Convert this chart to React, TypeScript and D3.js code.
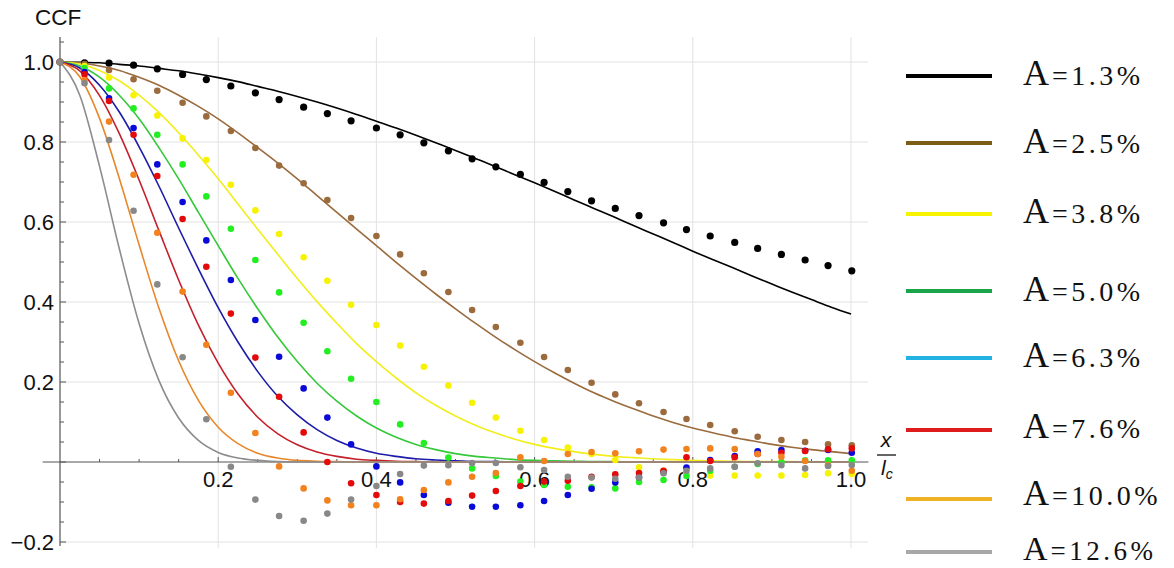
import React from 'react';
import * as d3 from 'd3';

// ---------- data ----------
const seriesNames = ["1.3", "2.5", "3.8", "5.0", "6.3", "7.6", "10.0", "12.6"];

// lag positions of the measured points (x / l_c)
const lags = [0, 0.031, 0.062, 0.093, 0.123, 0.155, 0.185, 0.216, 0.247, 0.277, 0.308, 0.338, 0.368, 0.4, 0.43, 0.46, 0.491, 0.521, 0.551, 0.582, 0.612, 0.642, 0.672, 0.702, 0.732, 0.763, 0.792, 0.822, 0.853, 0.882, 0.912, 0.942, 0.971, 1.001];

const ptsA13 = [1, 0.998, 0.997, 0.992, 0.983, 0.969, 0.956, 0.94, 0.923, 0.906, 0.887, 0.871, 0.853, 0.835, 0.818, 0.798, 0.778, 0.758, 0.738, 0.719, 0.699, 0.676, 0.653, 0.634, 0.616, 0.598, 0.581, 0.565, 0.549, 0.534, 0.519, 0.505, 0.491, 0.478];
const ptsA25 = [1, 0.995, 0.98, 0.957, 0.928, 0.898, 0.864, 0.8275, 0.785, 0.741, 0.697, 0.655, 0.61, 0.565, 0.519, 0.472, 0.425, 0.38, 0.3375, 0.298, 0.2625, 0.23, 0.198, 0.169, 0.147, 0.125, 0.1075, 0.0925, 0.077, 0.063, 0.055, 0.05, 0.044, 0.042];
const ptsA38 = [1, 0.99, 0.961, 0.917, 0.866, 0.809, 0.755, 0.693, 0.629, 0.57, 0.512, 0.453, 0.393, 0.3425, 0.291, 0.238, 0.191, 0.148, 0.111, 0.078, 0.055, 0.036, 0.02, 0.005, -0.013, -0.022, -0.028, -0.034, -0.034, -0.034, -0.034, -0.0325, -0.028, -0.03];
const ptsA50 = [1, 0.985, 0.934, 0.884, 0.818, 0.744, 0.664, 0.583, 0.505, 0.424, 0.348, 0.277, 0.208, 0.15, 0.094, 0.0475, 0.011, -0.016, -0.035, -0.049, -0.0575, -0.062, -0.063, -0.066, -0.05, -0.045, -0.035, -0.022, -0.012, -0.005, 0, 0.004, 0.004, 0.004];
const ptsA63 = [1, 0.975, 0.909, 0.835, 0.744, 0.65, 0.554, 0.455, 0.355, 0.263, 0.184, 0.111, 0.044, -0.011, -0.051, -0.0825, -0.102, -0.112, -0.112, -0.108, -0.0975, -0.0825, -0.067, -0.051, -0.038, -0.025, -0.014, 0.005, 0.015, 0.027, 0.03, 0.028, 0.03, 0.023];
const ptsA76 = [1, 0.969, 0.9025, 0.818, 0.715, 0.6075, 0.488, 0.371, 0.261, 0.163, 0.074, 0, -0.053, -0.0825, -0.1, -0.104, -0.0975, -0.084, -0.0725, -0.06, -0.049, -0.047, -0.037, -0.031, -0.0275, -0.022, 0.012, 0.0025, 0.012, 0.02, 0.023, 0.0275, 0.032, 0.034];
const ptsA100 = [1, 0.955, 0.851, 0.718, 0.573, 0.426, 0.293, 0.173, 0.0725, -0.011, -0.066, -0.096, -0.108, -0.108, -0.093, -0.07, -0.051, -0.037, -0.0275, 0.012, 0.0025, 0.02, 0.025, 0.022, 0.027, 0.031, 0.0325, 0.034, 0.0325, 0.02, 0.013, 0.0025, -0.0075, -0.022];
const ptsA126 = [1, 0.947, 0.805, 0.628, 0.444, 0.262, 0.107, -0.012, -0.094, -0.135, -0.147, -0.129, -0.094, -0.06, -0.03, -0.009, -0.008, -0.0025, -0.0025, -0.013, -0.02, -0.037, -0.039, -0.042, -0.039, -0.028, -0.022, -0.016, -0.012, -0.003, -0.008, -0.016, -0.01, -0.0075];

// fitted curves, sampled along x / l_c
const curveX = [0, 0.025, 0.05, 0.075, 0.1, 0.125, 0.15, 0.175, 0.2, 0.225, 0.25, 0.275, 0.3, 0.325, 0.35, 0.375, 0.4, 0.425, 0.45, 0.475, 0.5, 0.525, 0.55, 0.575, 0.6, 0.625, 0.65, 0.675, 0.7, 0.725, 0.75, 0.775, 0.8, 0.825, 0.85, 0.875, 0.9, 0.925, 0.95, 0.975, 1];
const fitA13 = [1, 0.999, 0.998, 0.994, 0.99, 0.984, 0.978, 0.97, 0.961, 0.951, 0.939, 0.927, 0.914, 0.9, 0.885, 0.869, 0.852, 0.835, 0.817, 0.798, 0.779, 0.759, 0.739, 0.718, 0.698, 0.677, 0.655, 0.634, 0.613, 0.591, 0.57, 0.549, 0.527, 0.506, 0.486, 0.465, 0.445, 0.425, 0.406, 0.387, 0.37];
const fitA25 = [1, 0.998, 0.99, 0.979, 0.962, 0.942, 0.917, 0.889, 0.858, 0.823, 0.786, 0.748, 0.708, 0.666, 0.624, 0.582, 0.541, 0.499, 0.459, 0.42, 0.383, 0.347, 0.313, 0.281, 0.251, 0.223, 0.197, 0.173, 0.152, 0.133, 0.115, 0.099, 0.085, 0.073, 0.062, 0.053, 0.044, 0.037, 0.031, 0.026, 0.021];
const fitA38 = [1, 0.995, 0.979, 0.953, 0.917, 0.874, 0.823, 0.767, 0.708, 0.645, 0.582, 0.52, 0.459, 0.401, 0.347, 0.296, 0.251, 0.21, 0.173, 0.142, 0.115, 0.092, 0.073, 0.057, 0.044, 0.034, 0.026, 0.019, 0.014, 0.011, 0.008, 0.006, 0.004, 0.003, 0.002, 0.001, 0.001, 0.001, 0, 0, 0];
const fitA50 = [1, 0.99, 0.962, 0.917, 0.858, 0.786, 0.708, 0.624, 0.541, 0.459, 0.383, 0.313, 0.251, 0.197, 0.152, 0.115, 0.085, 0.062, 0.044, 0.031, 0.021, 0.014, 0.01, 0.006, 0.004, 0.003, 0.002, 0.001, 0.001, 0, 0, 0, 0, 0, 0, 0, 0, 0, 0, 0, 0];
const fitA63 = [1, 0.985, 0.942, 0.875, 0.788, 0.69, 0.585, 0.483, 0.386, 0.3, 0.226, 0.165, 0.118, 0.081, 0.054, 0.035, 0.022, 0.014, 0.008, 0.005, 0.003, 0.001, 0.001, 0, 0, 0, 0, 0, 0, 0, 0, 0, 0, 0, 0, 0, 0, 0, 0, 0, 0];
const fitA76 = [1, 0.978, 0.916, 0.821, 0.705, 0.579, 0.455, 0.342, 0.247, 0.17, 0.112, 0.071, 0.043, 0.025, 0.014, 0.007, 0.004, 0.002, 0.001, 0, 0, 0, 0, 0, 0, 0, 0, 0, 0, 0, 0, 0, 0, 0, 0, 0, 0, 0, 0, 0, 0];
const fitA100 = [1, 0.963, 0.859, 0.709, 0.543, 0.385, 0.253, 0.154, 0.087, 0.046, 0.022, 0.01, 0.004, 0.002, 0.001, 0, 0, 0, 0, 0, 0, 0, 0, 0, 0, 0, 0, 0, 0, 0, 0, 0, 0, 0, 0, 0, 0, 0, 0, 0, 0];
const fitA126 = [1, 0.917, 0.739, 0.533, 0.346, 0.204, 0.11, 0.054, 0.024, 0.01, 0.004, 0.001, 0, 0, 0, 0, 0, 0, 0, 0, 0, 0, 0, 0, 0, 0, 0, 0, 0, 0, 0, 0, 0, 0, 0, 0, 0, 0, 0, 0, 0];

const xTickLabels = ["0.2", "0.4", "0.6", "0.8", "1.0"];
const yTickLabels = ["\u22120.2", "0.2", "0.4", "0.6", "0.8", "1.0"];

// ---------- styles / layout ----------
const curveColors = ["#000000", "#9a6b3d", "#f2ee1c", "#35c83a", "#1c1ca8", "#c4202a", "#e8872a", "#8c8c8c"];
const dotColors = ["#000000", "#9b6a3d", "#f7f300", "#22ee22", "#0a0ad8", "#e40a0a", "#f2821e", "#888888"];
const legendColors = ["#000000", "#7b5d13", "#f8f400", "#1aa54a", "#22b2e4", "#de1c1c", "#f0b225", "#a8a8a8"];
const legendLineY = [76, 143, 214, 291, 358, 430, 499, 552];
const legendTextY = [85, 153, 223, 301, 367, 438, 505, 560];

const W = 1174;
const H = 568;

export default function App() {
  const x = d3.scaleLinear().domain([0, 1]).range([60, 851]);
  const y = d3.scaleLinear().domain([-0.2, 1]).range([542, 62]);

  const pts = [ptsA13, ptsA25, ptsA38, ptsA50, ptsA63, ptsA76, ptsA100, ptsA126];
  const fits = [fitA13, fitA25, fitA38, fitA50, fitA63, fitA76, fitA100, fitA126];

  const line = d3
    .line<number>()
    .x((_, i) => x(curveX[i]))
    .y((d) => y(d))
    .curve(d3.curveMonotoneX);

  const xMajor = xTickLabels.map((t) => +t);
  const yMajor = yTickLabels.map((t) => +t.replace("\u2212", "-"));
  const xMinor = d3.range(0.05, 1.001, 0.05);
  const yMinor = d3.range(-0.2, 1.051, 0.05);

  const axisColor = "#555555";
  const gridColor = "#e2e2e2";
  const sans = "'Liberation Sans', Arial, sans-serif";
  const serif = "'Liberation Serif', 'Times New Roman', serif";

  const xLeft = x(-0.022);
  const xRight = x(1.022);
  const yTop = y(1.0625);
  const yBot = y(-0.21);

  return (
    <svg
      width={W}
      height={H}
      viewBox={`0 0 ${W} ${H}`}
      style={{ position: 'absolute', left: 0, top: 0, background: '#ffffff' }}
    >
      <rect x={0} y={0} width={W} height={H} fill="#ffffff" />

      {/* grid */}
      {xMajor.map((v) => (
        <line key={'gx' + v} x1={x(v)} x2={x(v)} y1={yTop} y2={yBot + 2} stroke={gridColor} strokeWidth={1} />
      ))}
      {yMajor.map((v) => (
        <line key={'gy' + v} x1={x(0)} x2={xRight} y1={y(v)} y2={y(v)} stroke={gridColor} strokeWidth={1} />
      ))}

      {/* axes */}
      <line x1={xLeft} x2={xRight} y1={y(0)} y2={y(0)} stroke={axisColor} strokeWidth={1.2} />
      <line x1={x(0)} x2={x(0)} y1={yTop} y2={yBot} stroke={axisColor} strokeWidth={1.2} />
      {xMinor.map((v) => {
        const major = Math.abs(v * 5 - Math.round(v * 5)) < 1e-6;
        return (
          <line key={'xt' + v} x1={x(v)} x2={x(v)} y1={y(0)} y2={y(0) - (major ? 5 : 3)} stroke={axisColor} strokeWidth={1} />
        );
      })}
      {yMinor.map((v) => {
        const major = Math.abs(v * 5 - Math.round(v * 5)) < 1e-6;
        return (
          <line key={'yt' + v} x1={x(0)} x2={x(0) + (major ? 6 : 4)} y1={y(v)} y2={y(v)} stroke={axisColor} strokeWidth={1} />
        );
      })}

      {/* tick labels */}
      {xTickLabels.map((t, i) => (
        <text key={'xl' + t} x={x(xMajor[i])} y={y(0) + 25} textAnchor="middle" fontFamily={sans} fontSize={22} fill="#111">
          {t}
        </text>
      ))}
      {yTickLabels.map((t, i) => (
        <text key={'yl' + t} x={x(0) - 6} y={y(yMajor[i])} dy="0.36em" textAnchor="end" fontFamily={sans} fontSize={22} fill="#111">
          {t}
        </text>
      ))}

      {/* axis labels */}
      <text x={35} y={25} fontFamily={sans} fontSize={22.5} fill="#111">CCF</text>
      <text x={886} y={447} textAnchor="middle" fontFamily={sans} fontStyle="italic" fontSize={21} fill="#111">x</text>
      <line x1={877} x2={896} y1={455} y2={455} stroke="#111" strokeWidth={1.3} />
      <text x={881} y={475} fontFamily={sans} fontStyle="italic" fontSize={21} fill="#111">
        l<tspan fontSize={14} dy={4}>c</tspan>
      </text>

      {/* fitted curves */}
      {fits.map((f, i) => (
        <path key={'c' + i} d={line(f) || ''} fill="none" stroke={curveColors[i]} strokeWidth={1.6} />
      ))}

      {/* measured points */}
      {pts.map((p, i) => (
        <g key={'p' + i} fill={dotColors[i]}>
          {p.map((v, k) => (
            <circle key={k} cx={x(lags[k])} cy={y(v)} r={i === 0 ? 3.6 : 3.3} />
          ))}
        </g>
      ))}

      {/* legend */}
      {seriesNames.map((n, i) => (
        <g key={'lg' + n}>
          <line x1={906} x2={992} y1={legendLineY[i]} y2={legendLineY[i]} stroke={legendColors[i]} strokeWidth={4} />
          <text x={1023} y={legendTextY[i]} fontFamily={serif} fill="#111">
            <tspan fontSize={i === 7 ? 34 : 36}>A</tspan>
            <tspan fontSize={i === 7 ? 27 : 28} letterSpacing={3.5} dx={3}>{'=' + n + '%'}</tspan>
          </text>
        </g>
      ))}
    </svg>
  );
}
